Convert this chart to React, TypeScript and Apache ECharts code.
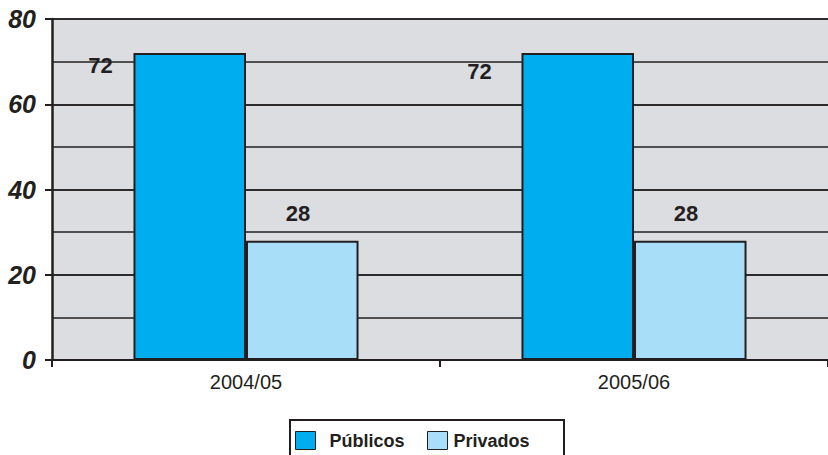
import React, { useEffect, useRef } from "react";
import * as echarts from "echarts";

const categories = ["2004/05", "2005/06"];
const publicos = [72, 72];
const privados = [28, 28];
const seriesNames = ["Públicos", "Privados"];

export default function App() {
  const ref = useRef<HTMLDivElement>(null);
  useEffect(() => {
    const chart = echarts.init(ref.current!, null, { renderer: "svg" });
    const font = "'Liberation Sans', Arial, Helvetica, sans-serif";
    const dark = "#231f20";
    const legendText = {
      fontFamily: font,
      fontWeight: "bold",
      fontSize: 18,
      color: dark,
    };
    chart.setOption({
      animation: false,
      textStyle: { fontFamily: font },
      grid: {
        left: 52,
        right: -2,
        top: 19,
        bottom: 95,
        show: true,
        backgroundColor: "#dcdde0",
        borderWidth: 0,
      },
      graphic: [
        {
          type: "rect",
          left: 289,
          top: 419,
          shape: { width: 274, height: 44 },
          style: { fill: "#fff", stroke: dark, lineWidth: 2 },
          z: -1,
        },
      ],
      legend: [
        {
          data: [seriesNames[0]],
          left: 295,
          top: 431,
          padding: 0,
          icon: "rect",
          itemWidth: 20,
          itemHeight: 18,
          textStyle: { ...legendText, padding: [0, 0, 0, 9] },
          itemStyle: { borderColor: dark, borderWidth: 1 },
        },
        {
          data: [seriesNames[1]],
          left: 427,
          top: 431,
          padding: 0,
          icon: "rect",
          itemWidth: 20,
          itemHeight: 18,
          textStyle: { ...legendText, padding: [0, 0, 0, 1] },
          itemStyle: { borderColor: dark, borderWidth: 1 },
        },
      ],
      xAxis: {
        type: "category",
        data: categories,
        axisLine: { show: true, lineStyle: { color: dark, width: 2 } },
        axisTick: { show: true, length: 7, lineStyle: { color: dark, width: 2 } },
        axisLabel: {
          color: dark,
          fontSize: 20,
          fontFamily: font,
          margin: 12,
        },
      },
      yAxis: [
        {
          type: "value",
          min: 0,
          max: 80,
          interval: 20,
          axisLine: { show: true, lineStyle: { color: dark, width: 2.5 } },
          axisTick: { show: true, length: 7, lineStyle: { color: dark, width: 2 } },
          axisLabel: {
            color: dark,
            fontSize: 25,
            fontWeight: "bold",
            fontStyle: "italic",
            fontFamily: font,
            margin: 16,
          },
          splitLine: { show: true, lineStyle: { color: dark, width: 1.5 } },
        },
        {
          type: "value",
          min: 0,
          max: 80,
          interval: 10,
          position: "left",
          axisLine: { show: false },
          axisTick: { show: false },
          axisLabel: { show: false },
          splitLine: { show: true, lineStyle: { color: dark, width: 1.5 } },
        },
      ],
      series: [
        {
          name: seriesNames[0],
          type: "bar",
          yAxisIndex: 0,
          barCategoryGap: "42%",
          barGap: "0%",
          itemStyle: { color: "#00adee", borderColor: dark, borderWidth: 2 },
          data: publicos.map((v, i) => ({
            value: v,
            label: {
              show: true,
              position: i === 0 ? [-33, 12] : [-42, 18],
              align: "center",
              verticalAlign: "middle",
              fontSize: 22,
              fontWeight: "bold",
              color: dark,
              fontFamily: font,
            },
          })),
        },
        {
          name: seriesNames[1],
          type: "bar",
          yAxisIndex: 0,
          barCategoryGap: "42%",
          barGap: "0%",
          itemStyle: { color: "#a9def9", borderColor: dark, borderWidth: 2 },
          data: privados.map((v) => ({
            value: v,
            label: {
              show: true,
              position: [52, -27],
              align: "center",
              verticalAlign: "middle",
              fontSize: 22,
              fontWeight: "bold",
              color: dark,
              fontFamily: font,
            },
          })),
        },
      ],
    });
    return () => chart.dispose();
  }, []);
  return <div ref={ref} style={{ width: 828, height: 455, position: "fixed", left: 0, top: 0, background: "#fff" }} />;
}
